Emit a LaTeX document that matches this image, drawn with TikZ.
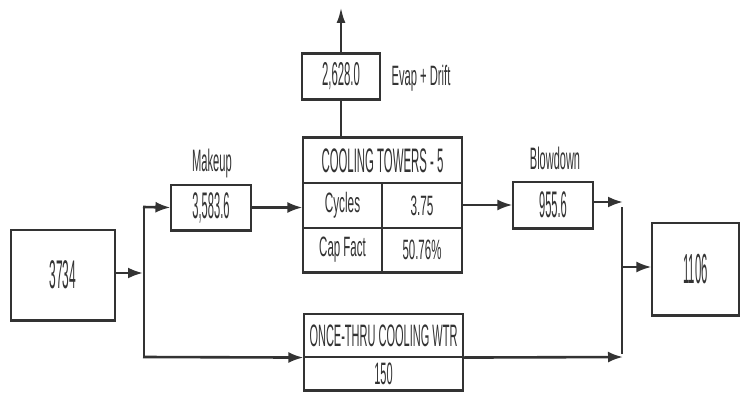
\documentclass[tikz,border=0pt]{standalone}
\usepackage{fontspec}
\usepackage{graphicx}
\setmainfont{Liberation Sans}
\usetikzlibrary{arrows.meta}
\definecolor{ink}{gray}{0.2}
\newcommand{\sq}[3]{\scalebox{#2}[1]{\fontsize{#1}{#1}\selectfont #3}}
\begin{document}
\begin{tikzpicture}[x=1pt,y=-1pt,
  box/.style={draw=ink,line width=1.1pt,inner sep=0pt,text=ink},
  lbl/.style={inner sep=0pt,text=ink},
  flow/.style={draw=ink,line width=2.6pt},
  arr/.style={flow,-{Latex[length=15pt,width=11pt]}},
  edgeh/.style={draw=ink,line width=2.4pt}]
\useasboundingbox[fill=white] (0,0) rectangle (741,401);
% nodes
\node[box,minimum width=104pt,minimum height=90pt] (src) at (63,275) {\sq{40}{0.30}{3734}};
\node[box,minimum width=80pt,minimum height=45pt] (mk) at (211,207.5) {\sq{37}{0.30}{3,583.6}};
\node[lbl] (mkl) at (212,163) {\sq{31}{0.36}{Makeup}};
\node[box,minimum width=78pt,minimum height=45pt] (ev) at (341,76.5) {\sq{33}{0.345}{2,628.0}};
\node[lbl] (evl) at (421,78) {\sq{28}{0.40}{Evap + Drift}};
\node[box,minimum width=159pt,minimum height=45pt] (cth) at (382.5,160.5) {\sq{34}{0.335}{COOLING TOWERS - 5}};
\node[box,minimum width=79pt,minimum height=45pt] (c11) at (342.5,205.5) {\sq{28}{0.42}{Cycles}};
\node[box,minimum width=80pt,minimum height=45pt] (c12) at (422,205.5) {\sq{28}{0.42}{3.75}};
\node[box,minimum width=79pt,minimum height=44pt] (c21) at (342.5,250) {\sq{28}{0.41}{Cap Fact}};
\node[box,minimum width=80pt,minimum height=44pt] (c22) at (422,250) {\sq{28}{0.41}{50.76\%}};
\node[box,minimum width=80pt,minimum height=46pt] (bd) at (553,205) {\sq{37}{0.30}{955.6}};
\node[lbl] (bdl) at (555,158) {\sq{31}{0.355}{Blowdown}};
\node[box,minimum width=87pt,minimum height=92pt] (out) at (695.5,269) {\sq{42}{0.27}{1106}};
\node[box,minimum width=159pt,minimum height=43pt] (ot1) at (383.5,335.5) {\sq{31}{0.355}{ONCE-THRU COOLING WTR}};
\node[box,minimum width=159pt,minimum height=33pt] (ot2) at (383.5,373.5) {\sq{31}{0.355}{150}};
% heavier horizontal edges
\foreach \n in {src,mk,ev,bd,out,ot2}{
  \draw[edgeh] (\n.south west) -- (\n.south east);
}
\draw[edgeh] (cth.north west) -- (cth.north east);
\draw[edgeh] (c21.south west) -- (c22.south east);
\draw[edgeh] (ev.north west) -- (ev.north east);
% junction coordinates
\coordinate (jl) at (144,273);
\coordinate (jlt) at (144,207);
\coordinate (jlb) at (144,357);
\coordinate (jr) at (622,267);
\coordinate (jrt) at (622,202);
\coordinate (jrb) at (622,357);
\coordinate (top) at (341,8);
% connectors
\draw[arr] (src.east |- jl) -- ([xshift=-1pt]jl);
\draw[flow,line width=2pt] ([yshift=-1pt]jlt) -- ([yshift=1pt]jlb);
\draw[arr] ([xshift=-1pt]jlt) -- (mk.west);
\draw[arr] ([xshift=-1pt]jlb) -- (ot1.south west);
\draw[arr] (mk.east) -- (mk.east -| cth.west);
\draw[arr] (cth.east |- bd.west) -- (bd.west);
\draw[arr] (bd.east |- jrt) -- ([xshift=1pt]jrt);
\draw[arr] (ot1.south east) -- ([xshift=1pt]jrb);
\draw[flow,line width=2pt] ([yshift=-5pt]jrt) -- ([yshift=3pt]jrb);
\draw[arr] (jr) -- (out.west |- jr);
\draw[flow,line width=2pt] (cth.north -| ev) -- (ev.south);
\draw[flow,line width=2pt,-{Latex[length=15pt,width=9pt]}] (ev.north) -- (top);
\end{tikzpicture}
\end{document}
